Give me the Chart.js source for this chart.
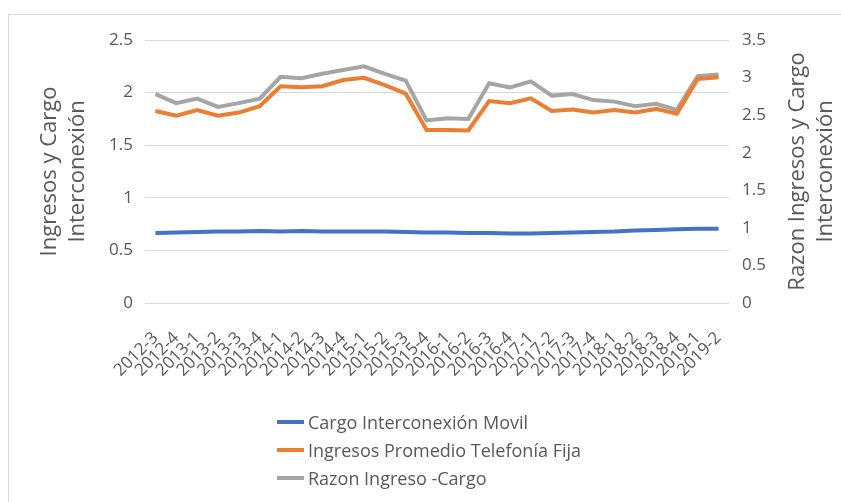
<!DOCTYPE html>
<html lang="es">
<head>
    <meta charset="UTF-8">
    <title>Ingresos y Cargo Interconexión</title>
    <script src="https://cdn.jsdelivr.net/npm/chart.js"></script>
    <style>
        body {
            margin: 0;
            background: #ffffff;
            overflow: hidden;
        }

        #wrap {
            position: relative;
            width: 841px;
            height: 502px;
        }

        #marco {
            position: absolute;
            left: 8px;
            top: 14px;
            right: -10px;
            bottom: -10px;
            border-left: 1px solid #d9d9d9;
            border-top: 1px solid #d9d9d9;
        }

        #leyenda {
            position: absolute;
            left: 277px;
            top: 408px;
            font-family: "Open Sans", sans-serif;
            font-size: 18px;
            color: #595959;
        }

        .item {
            display: flex;
            align-items: center;
            height: 28px;
        }

        .marca {
            width: 27px;
            height: 4px;
            margin-right: 4px;
        }
    </style>
</head>
<body>
<div id="wrap">
    <div id="marco"></div>
    <canvas id="grafica" width="841" height="502"></canvas>
    <div id="leyenda"></div>
</div>

<script>
    // Trimestres
    const periodos = [
        "2012-3", "2012-4", "2013-1", "2013-2", "2013-3", "2013-4", "2014-1",
        "2014-2", "2014-3", "2014-4", "2015-1", "2015-2", "2015-3", "2015-4",
        "2016-1", "2016-2", "2016-3", "2016-4", "2017-1", "2017-2", "2017-3",
        "2017-4", "2018-1", "2018-2", "2018-3", "2018-4", "2019-1", "2019-2"
    ];

    // Eje izquierdo
    const cargoMovil = [
        0.665, 0.67, 0.675, 0.68, 0.68, 0.685, 0.68, 0.685, 0.68, 0.68, 0.68, 0.68, 0.675, 0.67,
        0.67, 0.665, 0.665, 0.66, 0.66, 0.665, 0.67, 0.675, 0.68, 0.69, 0.695, 0.70, 0.705, 0.705
    ];
    const ingresosFija = [
        1.825, 1.78, 1.835, 1.78, 1.81, 1.87, 2.06, 2.05, 2.06, 2.12, 2.14, 2.07, 1.99, 1.645,
        1.645, 1.64, 1.92, 1.90, 1.945, 1.825, 1.84, 1.81, 1.835, 1.81, 1.845, 1.80, 2.13, 2.145
    ];

    // Eje derecho
    const razon = [
        2.78, 2.66, 2.72, 2.61, 2.66, 2.72, 3.01, 2.99, 3.05, 3.10, 3.15, 3.05, 2.96, 2.43,
        2.46, 2.45, 2.925, 2.87, 2.95, 2.76, 2.78, 2.70, 2.68, 2.62, 2.65, 2.57, 3.02, 3.04
    ];

    const nombres = ["Cargo Interconexión Movil", "Ingresos Promedio Telefonía Fija", "Razon Ingreso -Cargo"];
    const colores = ["#4472C4", "#ED7D31", "#A5A5A5"];
    const tituloIzq = ["Ingresos y Cargo", "Interconexión"];
    const tituloDer = ["Razon Ingresos y Cargo", "Interconexión"];

    const gris = "#595959";
    const fuente = "'Open Sans', sans-serif";

    // titulos de los ejes (el derecho va de abajo hacia arriba, como el izquierdo)
    const titulosEjes = {
        id: "titulosEjes",
        afterDraw(chart) {
            const ctx = chart.ctx;
            const area = chart.chartArea;
            const yc = (area.top + area.bottom) / 2;
            const dibujar = (lineas, x0) => {
                ctx.save();
                ctx.fillStyle = gris;
                ctx.font = "22px " + fuente;
                ctx.textAlign = "center";
                ctx.textBaseline = "middle";
                lineas.forEach((t, i) => {
                    ctx.save();
                    ctx.translate(x0 + i * 28, yc);
                    ctx.rotate(-Math.PI / 2);
                    ctx.fillText(t, 0, 0);
                    ctx.restore();
                });
                ctx.restore();
            };
            dibujar(tituloIzq, 50);
            dibujar(tituloDer, 798);
        }
    };

    const series = [cargoMovil, ingresosFija, razon];
    const ejes = ["y", "y", "y1"];
    const numero = v => String(Number(v.toFixed(1)));

    new Chart(document.getElementById("grafica"), {
        type: "line",
        data: {
            labels: periodos,
            datasets: series.map((d, i) => ({
                label: nombres[i],
                data: d,
                yAxisID: ejes[i],
                borderColor: colores[i],
                backgroundColor: colores[i],
                borderWidth: 4,
                pointRadius: 0,
                tension: 0,
                fill: false
            }))
        },
        options: {
            responsive: false,
            animation: false,
            layout: { padding: { top: 40 } },
            plugins: {
                legend: { display: false },
                tooltip: { enabled: false }
            },
            scales: {
                x: {
                    offset: true,
                    grid: { display: false, drawTicks: false },
                    border: { display: false },
                    ticks: {
                        autoSkip: false,
                        minRotation: 45,
                        maxRotation: 45,
                        padding: 25,
                        color: gris,
                        font: { family: fuente, size: 17 }
                    },
                    afterFit(s) { s.height = 199; }
                },
                y: {
                    position: "left",
                    min: 0,
                    max: 2.5,
                    ticks: {
                        stepSize: 0.5,
                        padding: 12,
                        color: gris,
                        font: { family: fuente, size: 17 },
                        callback: numero
                    },
                    grid: { color: "#d9d9d9", lineWidth: 1, drawTicks: false },
                    border: { display: false },
                    afterFit(s) { s.width = 145; }
                },
                y1: {
                    position: "right",
                    min: 0,
                    max: 3.5,
                    ticks: {
                        stepSize: 0.5,
                        padding: 13,
                        color: gris,
                        font: { family: fuente, size: 17 },
                        callback: numero
                    },
                    grid: { display: false, drawTicks: false },
                    border: { display: false },
                    afterFit(s) { s.width = 112; }
                }
            }
        },
        plugins: [titulosEjes]
    });

    // leyenda en columna, como en la original
    const leyenda = document.getElementById("leyenda");
    nombres.forEach((n, i) => {
        const fila = document.createElement("div");
        fila.className = "item";
        fila.innerHTML = '<span class="marca" style="background:' + colores[i] + '"></span><span>' + n + '</span>';
        leyenda.appendChild(fila);
    });
</script>
</body>
</html>
